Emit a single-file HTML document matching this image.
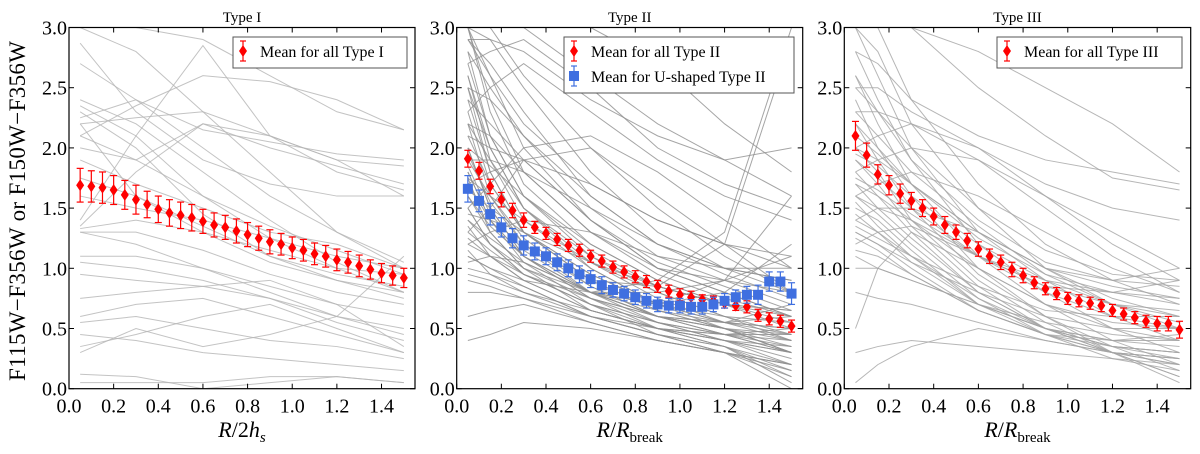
<!DOCTYPE html>
<html><head><meta charset="utf-8">
<style>
body{margin:0;background:#fff;}
svg{display:block;font-family:"Liberation Serif",serif;}
</style></head>
<body>
<svg id="fig" width="1200" height="454" viewBox="0 0 1200 454" xmlns="http://www.w3.org/2000/svg">
<text x="0" y="0" transform="translate(25,211) rotate(-90)" text-anchor="middle" font-size="23" textLength="340" lengthAdjust="spacing">F115W−F356W  or  F150W−F356W</text>
</svg>
<script>
// ---- data ----
const xMean = [0.05,0.10,0.15,0.20,0.25,0.30,0.35,0.40,0.45,0.50,0.55,0.60,0.65,0.70,0.75,0.80,0.85,0.90,0.95,1.00,1.05,1.10,1.15,1.20,1.25,1.30,1.35,1.40,1.45,1.50];
const type1Mean = [1.69,1.68,1.67,1.65,1.61,1.57,1.53,1.49,1.46,1.44,1.42,1.39,1.36,1.34,1.31,1.28,1.25,1.22,1.20,1.17,1.15,1.12,1.10,1.07,1.05,1.02,0.99,0.96,0.94,0.92];
const type1Err = [0.14,0.13,0.13,0.12,0.12,0.12,0.11,0.11,0.11,0.11,0.11,0.10,0.10,0.10,0.10,0.10,0.10,0.10,0.09,0.09,0.09,0.09,0.09,0.09,0.09,0.09,0.08,0.08,0.08,0.08];
const type2Mean = [1.91,1.81,1.68,1.57,1.48,1.40,1.34,1.29,1.24,1.19,1.15,1.10,1.06,1.01,0.97,0.93,0.89,0.85,0.81,0.78,0.76,0.74,0.73,0.71,0.69,0.68,0.61,0.58,0.56,0.52];
const type2Err = [0.07,0.07,0.06,0.06,0.06,0.06,0.05,0.05,0.05,0.05,0.05,0.05,0.05,0.05,0.05,0.05,0.05,0.05,0.05,0.05,0.05,0.04,0.04,0.04,0.04,0.05,0.05,0.05,0.05,0.05];
const type2UMean = [1.66,1.56,1.45,1.34,1.25,1.19,1.14,1.10,1.05,1.00,0.95,0.91,0.86,0.82,0.79,0.76,0.73,0.70,0.69,0.69,0.68,0.68,0.70,0.73,0.76,0.78,0.78,0.89,0.89,0.79];
const type2UErr = [0.11,0.09,0.09,0.08,0.08,0.08,0.07,0.07,0.07,0.07,0.07,0.07,0.07,0.06,0.06,0.06,0.06,0.06,0.06,0.06,0.06,0.06,0.06,0.06,0.06,0.07,0.08,0.08,0.08,0.09];
const type3Mean = [2.10,1.94,1.78,1.69,1.62,1.56,1.50,1.43,1.36,1.30,1.23,1.16,1.10,1.05,0.99,0.94,0.88,0.83,0.79,0.75,0.73,0.71,0.69,0.65,0.62,0.59,0.56,0.54,0.54,0.49];
const type3Err = [0.12,0.10,0.08,0.08,0.08,0.07,0.07,0.07,0.07,0.06,0.06,0.06,0.06,0.06,0.06,0.06,0.05,0.05,0.05,0.05,0.05,0.05,0.05,0.05,0.05,0.05,0.05,0.06,0.06,0.07];

const xGal1 = [0.05,0.3,0.6,0.9,1.2,1.5];
const type1Gal = [
[2.87,2.3,1.9,1.7,1.6,1.6],[2.7,2.4,2.0,1.6,1.3,1.05],[2.4,2.2,1.8,1.4,1.05,0.8],[2.35,2.1,1.6,1.25,1.0,0.8],
[2.3,2.0,1.45,1.1,0.9,0.75],[2.2,2.25,2.3,2.1,1.9,1.85],[2.1,2.35,2.6,2.55,2.4,2.15],[1.4,2.1,2.85,2.1,1.9,1.6],
[1.35,1.8,2.2,2.1,1.8,1.65],[1.33,1.4,1.3,1.15,1.0,0.95],[1.3,1.3,1.15,0.95,0.8,0.7],[1.3,1.2,1.0,0.8,0.6,0.5],
[1.1,1.1,1.0,0.85,0.7,0.6],[1.05,1.0,0.9,0.75,0.55,0.4],[0.95,0.9,0.85,0.75,0.6,0.45],[0.75,0.8,0.85,0.9,0.7,0.35],
[0.6,0.7,0.75,0.6,0.45,0.3],[0.55,0.6,0.5,0.4,0.35,0.25],[0.45,0.4,0.3,0.25,0.2,0.15],[0.35,0.45,0.6,0.7,0.5,0.3],
[0.3,0.5,0.35,0.45,0.6,1.1],[0.12,0.1,0.0,0.05,0.1,0.05],[2.0,1.9,2.2,2.0,1.85,1.7],[3.0,2.8,2.3,1.8,1.3,1.0],
[2.2,1.6,1.3,1.05,0.9,0.8],[1.6,1.5,1.4,1.25,1.1,1.0],[2.25,2.4,2.15,2.05,1.95,1.9],[3.0,3.0,2.9,2.6,2.3,2.15],
[0.05,0.05,0.05,0.1,0.1,0.05],[1.9,1.7,1.5,1.3,1.2,1.0],[2.1,1.9,1.6,1.35,1.15,0.95],[1.75,1.6,1.35,1.1,0.95,0.85]
];
const xGal2 = [0.05,0.15,0.3,0.6,0.9,1.2,1.5];
const type2Gal = [
[3.0,2.6,2.0,1.4,1.0,0.8,0.6],[3.0,2.3,1.7,1.2,0.9,0.7,0.5],[2.8,2.1,1.6,1.1,0.8,0.6,0.4],[2.6,1.9,1.4,1.0,0.7,0.5,0.3],
[2.4,1.8,1.3,0.9,0.65,0.5,0.3],[2.2,1.6,1.2,0.8,0.55,0.4,0.2],[2.0,1.5,1.1,0.75,0.5,0.35,0.1],[1.8,1.4,1.05,0.7,0.45,0.3,0.0],
[1.6,1.3,1.0,0.65,0.5,0.4,0.3],[1.4,1.2,0.95,0.7,0.55,0.45,0.35],[1.2,1.1,0.9,0.65,0.5,0.4,0.3],[1.0,0.95,0.85,0.6,0.45,0.35,0.2],
[0.9,0.85,0.75,0.55,0.4,0.3,0.15],[0.6,0.65,0.7,0.55,0.4,0.3,0.2],[3.0,3.0,2.6,2.0,1.5,1.1,0.8],[3.0,2.9,2.5,1.8,1.3,1.0,0.9],
[2.9,2.7,2.3,1.6,1.2,1.0,0.8],[2.5,2.4,2.1,1.5,1.1,0.9,0.7],[2.1,2.0,1.9,1.4,1.0,0.8,0.6],[1.9,1.9,1.8,1.5,1.2,1.0,0.9],
[1.7,1.8,1.9,1.7,1.4,1.2,1.0],[1.5,1.7,2.0,2.1,1.8,1.4,1.0],[1.3,1.5,1.9,2.0,1.6,1.2,0.8],[2.3,2.5,2.7,2.3,1.9,1.6,1.4],
[3.0,3.0,3.0,2.6,2.2,1.9,1.6],[2.7,2.8,2.9,2.5,2.0,1.7,1.5],[1.2,1.3,1.4,1.3,1.1,1.0,1.0],[1.1,1.0,0.9,0.8,0.8,0.9,1.1],
[1.8,1.4,1.1,0.8,0.7,0.8,1.2],[2.0,1.5,1.1,0.8,0.9,1.3,3.0],[2.5,1.8,1.3,0.9,0.85,1.2,2.9],[1.5,1.2,1.0,0.8,0.7,0.9,1.6],
[3.0,2.4,1.8,1.3,1.0,0.9,0.8],[2.2,1.9,1.5,1.05,0.75,0.55,0.4],[1.9,1.6,1.25,0.85,0.6,0.45,0.3],[1.7,1.4,1.1,0.75,0.55,0.4,0.25],
[1.3,1.15,0.95,0.7,0.5,0.35,0.15],[1.1,1.0,0.85,0.6,0.45,0.35,0.05],[0.8,0.8,0.75,0.6,0.45,0.3,0.1],[2.6,2.0,1.5,1.0,0.7,0.55,0.45],
[2.3,1.7,1.3,0.95,0.7,0.55,0.5],[1.6,1.35,1.1,0.8,0.6,0.5,0.45],[1.4,1.25,1.05,0.8,0.65,0.55,0.5],[1.25,1.1,0.95,0.75,0.6,0.55,0.6],
[2.8,2.5,2.1,1.6,1.2,0.95,0.75],[2.4,2.2,1.9,1.4,1.05,0.85,0.65],[2.0,1.85,1.6,1.2,0.9,0.7,0.55],[1.75,1.6,1.4,1.05,0.8,0.6,0.45],
[0.4,0.45,0.55,0.5,0.4,0.3,0.2],[3.0,3.0,3.0,3.0,2.7,2.2,1.8],[2.9,2.9,2.8,2.4,2.1,1.9,2.0],
[2.1,1.7,1.3,0.9,0.65,0.5,0.35],[1.95,1.55,1.2,0.85,0.6,0.45,0.3],[1.85,1.45,1.15,0.8,0.6,0.5,0.4],[1.5,1.2,0.95,0.7,0.55,0.45,0.4],
[1.35,1.1,0.9,0.65,0.5,0.45,0.45],[1.15,0.95,0.8,0.6,0.5,0.4,0.35],[2.7,2.1,1.6,1.15,0.85,0.7,0.6],[2.5,2.0,1.5,1.1,0.85,0.7,0.65],
[1.05,1.1,1.05,0.8,0.6,0.5,0.3],[0.95,0.9,0.8,0.65,0.5,0.45,0.5],[1.65,1.5,1.3,0.95,0.7,0.6,0.55],[2.2,2.1,1.8,1.3,0.95,0.75,0.6],
[1.45,1.4,1.3,1.05,0.85,0.7,0.65],[2.9,2.6,2.2,1.7,1.4,1.2,1.1],[1.75,1.3,1.0,0.75,0.6,0.55,0.7]
];
const xGal3 = [0.05,0.15,0.3,0.6,0.9,1.2,1.5];
const type3Gal = [
[3.0,3.0,2.4,1.7,1.2,0.9,0.7],[3.0,2.8,2.2,1.5,1.0,0.7,0.5],[3.0,2.6,2.0,1.3,0.9,0.6,0.4],[2.8,2.4,1.9,1.2,0.8,0.5,0.3],
[2.6,2.2,1.7,1.1,0.7,0.4,0.2],[2.4,2.0,1.6,1.0,0.6,0.35,0.15],[2.2,1.9,1.5,0.95,0.6,0.3,0.05],[2.0,1.8,1.4,0.9,0.55,0.3,0.1],
[1.9,1.7,1.35,0.85,0.5,0.3,0.2],[1.8,1.6,1.3,0.8,0.5,0.35,0.3],[1.7,1.5,1.25,0.8,0.5,0.3,0.25],[1.6,1.45,1.2,0.75,0.45,0.25,0.15],
[1.5,1.4,1.15,0.7,0.45,0.3,0.2],[1.4,1.3,1.1,0.7,0.5,0.35,0.3],[1.3,1.2,1.0,0.65,0.45,0.3,0.25],[1.15,1.1,0.95,0.65,0.45,0.35,0.3],
[1.0,1.0,0.9,0.7,0.5,0.4,0.35],[0.5,1.0,1.3,1.0,0.7,0.5,0.4],[0.3,0.35,0.4,0.35,0.3,0.25,0.2],[0.05,0.2,0.35,0.5,0.4,0.3,0.1],
[2.8,2.7,2.4,2.1,1.9,1.8,1.7],[2.5,2.5,2.3,2.0,1.7,1.5,1.4],[2.3,2.3,2.2,1.9,1.6,1.3,1.0],[2.0,2.1,2.2,2.0,1.6,1.2,0.9],
[1.8,1.9,2.0,1.9,1.5,1.1,0.8],[1.6,1.7,1.8,1.6,1.3,1.0,0.8],[1.4,1.5,1.5,1.3,1.0,0.85,0.75],[1.2,1.3,1.35,1.1,0.9,0.8,0.7],
[3.0,3.0,3.0,2.8,2.5,2.2,1.8],[3.0,3.0,3.0,2.5,2.1,1.75,1.65],[2.0,1.9,1.7,1.3,1.0,0.9,1.0],[1.6,1.5,1.4,1.1,0.85,0.8,0.9],
[2.6,2.3,1.9,1.4,1.05,0.9,0.85],[2.2,2.0,1.7,1.25,0.95,0.8,0.75],[1.9,1.75,1.5,1.1,0.85,0.7,0.65],[1.3,1.2,1.05,0.8,0.6,0.5,0.5],
[1.1,1.0,0.9,0.7,0.55,0.45,0.4],[0.8,0.75,0.7,0.55,0.4,0.3,0.25],[1.75,1.65,1.45,1.1,0.8,0.6,0.5],[2.1,1.95,1.7,1.3,1.0,0.75,0.6],
[1.55,1.35,1.1,0.75,0.5,0.35,0.25],[1.45,1.3,1.05,0.7,0.5,0.4,0.4],[1.25,1.15,0.95,0.65,0.45,0.4,0.45],[2.3,2.1,1.8,1.35,0.95,0.7,0.55],
[1.95,1.85,1.6,1.2,0.9,0.7,0.6],[1.7,1.6,1.4,1.0,0.7,0.55,0.5],[2.5,2.3,2.0,1.5,1.15,0.95,0.9],[1.35,1.25,1.1,0.85,0.65,0.6,0.6]
];
const xTicks = [0.0,0.2,0.4,0.6,0.8,1.0,1.2,1.4];
const yTicks = [0.0,0.5,1.0,1.5,2.0,2.5,3.0];

// ---- drawing ----
const NS = "http://www.w3.org/2000/svg";
const svg = document.getElementById('fig');
function mk(tag, attrs, parent){
  const e = document.createElementNS(NS, tag);
  for (const k in attrs) e.setAttribute(k, attrs[k]);
  (parent||svg).appendChild(e);
  return e;
}
const TOP = 27.5, BOT = 388.7;
function panel(left, right, title, titleName, gxs, gals, galColor, means, legend, xlabel){
  const sx = v => left + v/1.55*(right-left);
  const sy = v => BOT - v/3*(BOT-TOP);
  const g = mk('g', {});
  
  
  const clipId = 'c' + titleName;
  const cp = mk('clipPath', {id: clipId}, g);
  mk('rect', {x:left, y:TOP, width:right-left, height:BOT-TOP}, cp);
  const lines = mk('g', {'clip-path':'url(#'+clipId+')'}, g);
  
  
  gals.forEach(arr => {
    const p = mk('polyline', {points: arr.map((v,i)=>sx(gxs[i])+','+sy(v)).join(' '), fill:'none', stroke:galColor, 'stroke-width':1, 'stroke-opacity':0.8}, lines);
    
    
  });
  means.forEach(m => {
    const mg = mk('g', {}, g);
    
    
    m.vals.forEach((v,i) => {
      const x = sx(xMean[i]), y = sy(v), e1 = sy(v - m.err[i]), e2 = sy(v + m.err[i]);
      mk('line', {x1:x, x2:x, y1:e1, y2:e2, stroke:m.color, 'stroke-width':1.2}, mg);
      mk('line', {x1:x-3.5, x2:x+3.5, y1:e1, y2:e1, stroke:m.color, 'stroke-width':1.2}, mg);
      mk('line', {x1:x-3.5, x2:x+3.5, y1:e2, y2:e2, stroke:m.color, 'stroke-width':1.2}, mg);
      let mark;
      if (m.shape === 'd') mark = mk('polygon', {points:`${x},${y-6} ${x+4},${y} ${x},${y+6} ${x-4},${y}`, fill:m.color}, mg);
      else mark = mk('rect', {x:x-5, y:y-5, width:10, height:10, fill:m.color}, mg);
      
      
    });
  });
  const fr = mk('rect', {x:left, y:TOP, width:right-left, height:BOT-TOP, fill:'none', stroke:'#000', 'stroke-width':1.2}, g);
  
  
  xTicks.forEach(t => {
    const x = sx(t);
    mk('line', {x1:x, x2:x, y1:BOT, y2:BOT-5, stroke:'#000'}, g);
    mk('line', {x1:x, x2:x, y1:TOP, y2:TOP+5, stroke:'#000'}, g);
    const tl = mk('text', {x:x, y:BOT+24, 'text-anchor':'middle', 'font-size':20}, g);
    tl.textContent = t.toFixed(1);
    
    
  });
  yTicks.forEach(t => {
    const y = sy(t);
    mk('line', {x1:left, x2:left+5, y1:y, y2:y, stroke:'#000'}, g);
    mk('line', {x1:right, x2:right-5, y1:y, y2:y, stroke:'#000'}, g);
    const tl = mk('text', {x:left-2, y:y+7, 'text-anchor':'end', 'font-size':20}, g);
    tl.textContent = t.toFixed(1);
    
    
  });
  const tt = mk('text', {x:(left+right)/2, y:22, 'text-anchor':'middle', 'font-size':15}, g);
  tt.textContent = title;
  
  
  const lg = mk('g', {}, g);
  
  
  mk('rect', {x:legend.x, y:37, width:legend.w, height:legend.entries.length*25+6, fill:'#fff', stroke:'#555', 'stroke-width':1}, lg);
  legend.entries.forEach((en,i) => {
    const cy = 51 + i*25, cx = legend.x + 10;
    const eg = mk('g', {}, lg);
    
    
    mk('line', {x1:cx, x2:cx, y1:cy-10, y2:cy+10, stroke:en.color, 'stroke-width':1.2}, eg);
    mk('line', {x1:cx-3, x2:cx+3, y1:cy-10, y2:cy-10, stroke:en.color, 'stroke-width':1.2}, eg);
    mk('line', {x1:cx-3, x2:cx+3, y1:cy+10, y2:cy+10, stroke:en.color, 'stroke-width':1.2}, eg);
    if (en.shape === 'd') mk('polygon', {points:`${cx},${cy-6} ${cx+4},${cy} ${cx},${cy+6} ${cx-4},${cy}`, fill:en.color}, eg);
    else mk('rect', {x:cx-5, y:cy-5, width:10, height:10, fill:en.color}, eg);
    const t = mk('text', {x:cx+17, y:cy+6, 'font-size':16}, eg);
    t.textContent = en.label;
  });
  const xl = mk('text', {x:(left+right)/2, y:437, 'text-anchor':'middle', 'font-size':22}, g);
  xl.innerHTML = xlabel;
  
  
}
panel(69, 415, 'Type I', 'type-i', xGal1, type1Gal, '#b4b4b4',
  [{name:'type-i-mean-series', vals:type1Mean, err:type1Err, color:'#ff0000', shape:'d'}],
  {x:233, w:174, entries:[{label:'Mean for all Type I', color:'#ff0000', shape:'d'}]},
  '<tspan font-style="italic">R</tspan>/2<tspan font-style="italic">h</tspan><tspan font-style="italic" font-size="15" dy="5">s</tspan>');
panel(456.7, 802.7, 'Type II', 'type-ii', xGal2, type2Gal, '#8f8f8f',
  [{name:'type-ii-mean-series', vals:type2Mean, err:type2Err, color:'#ff0000', shape:'d'},
   {name:'u-shaped-mean-series', vals:type2UMean, err:type2UErr, color:'#3f6fe0', shape:'s'}],
  {x:564, w:230, entries:[{label:'Mean for all Type II', color:'#ff0000', shape:'d'},{label:'Mean for U-shaped Type II', color:'#3f6fe0', shape:'s'}]},
  '<tspan font-style="italic">R</tspan>/<tspan font-style="italic">R</tspan><tspan font-size="15" dy="5">break</tspan>');
panel(844.3, 1190.7, 'Type III', 'type-iii', xGal3, type3Gal, '#a4a4a4',
  [{name:'type-iii-mean-series', vals:type3Mean, err:type3Err, color:'#ff0000', shape:'d'}],
  {x:997, w:185, entries:[{label:'Mean for all Type III', color:'#ff0000', shape:'d'}]},
  '<tspan font-style="italic">R</tspan>/<tspan font-style="italic">R</tspan><tspan font-size="15" dy="5">break</tspan>');
</script>
</body></html>
